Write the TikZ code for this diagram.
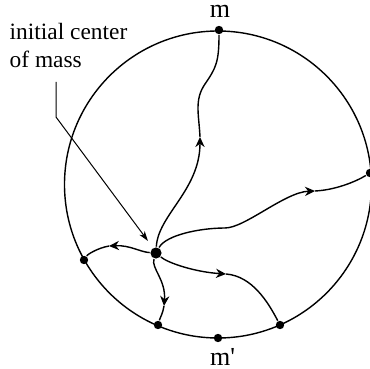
\documentclass[tikz,border=0pt]{standalone}
\usepackage{fontspec}
\setmainfont{Liberation Serif}
\newfontfamily\nomapserif[Ligatures=ResetAll]{Liberation Serif}
\usetikzlibrary{arrows.meta}
\begin{document}
\begin{tikzpicture}[x=0.5pt,y=-0.5pt,
  line width=0.7pt,
  dot/.style={circle,fill=black,inner sep=0pt,minimum size=4.2pt},
  bigdot/.style={circle,fill=black,inner sep=0pt,minimum size=5.6pt},
  tip/.style={-{Stealth[length=5pt,width=4.6pt,inset=1.6pt]}},
  lbl/.style={inner sep=0pt,font=\fontsize{11.7}{14}\selectfont},
  mlbl/.style={inner sep=0pt,font=\nomapserif\fontsize{13}{15}\selectfont}]
\useasboundingbox (0,0) rectangle (370,369);
% boundary circle
\node[draw,circle,minimum size=153.5pt,inner sep=0pt,line width=0.7pt] (O) at (218,184.5) {};
% points
\node[bigdot] (C) at (156,253) {};
\node[dot] (M) at (219,30) {};
\node[dot] (R) at (370,173) {};
\node[dot] (BR) at (280,325) {};
\node[dot] (Mp) at (218,338) {};
\node[dot] (BL) at (158,325) {};
\node[dot] (L) at (84,260) {};
% labels
\node[mlbl,anchor=base] (mt) at (220,18) {m};
\node[mlbl,anchor=base west] (mb) at (209.5,365) {m'};
\node[lbl,anchor=base west] (t1) at (9,40) {initial center};
\node[lbl,anchor=base west] (t2) at (9,68) {of mass};
% arrow waypoints
\coordinate (a1) at (200,137);
\coordinate (w1) at (205,84);
\coordinate (a2) at (315,191);
\coordinate (w2a) at (225,228);
\coordinate (a3) at (226,274);
\coordinate (a4) at (109,246);
\coordinate (a5) at (164,306);
\coordinate (k1) at (56,82);
\coordinate (k2) at (56,117);
\coordinate (k3) at (148,241);
% path to m
\draw[tip] (C) .. controls (158,215) and (200,190) .. (a1);
\draw (a1) .. controls (199,115) and (194,100) .. (w1) .. controls (216,68) and (219,62) .. (M);
% path to right point
\draw (C) .. controls (166,235) and (200,228) .. (w2a);
\draw[tip] (w2a) .. controls (245,228) and (285,192) .. (a2);
\draw (a2) .. controls (335,190) and (355,182) .. (R);
% path to lower right point
\draw[tip] (C) .. controls (168,263) and (195,272) .. (a3);
\draw (a3) .. controls (252,276) and (268,302) .. (BR);
% path to left point
\draw[tip] (C) .. controls (140,252) and (130,245) .. (a4);
\draw (a4) .. controls (98,248) and (88,254) .. (L);
% path to lower left point
\draw[tip] (C) .. controls (151,268) and (166,280) .. (a5);
\draw (a5) .. controls (163,313) and (160,318) .. (BL);
% leader
\draw[line width=0.5pt,-{Stealth[length=5pt,width=3.2pt,inset=1.5pt]}] (k1) -- (k2) -- (k3);
\end{tikzpicture}
\end{document}
